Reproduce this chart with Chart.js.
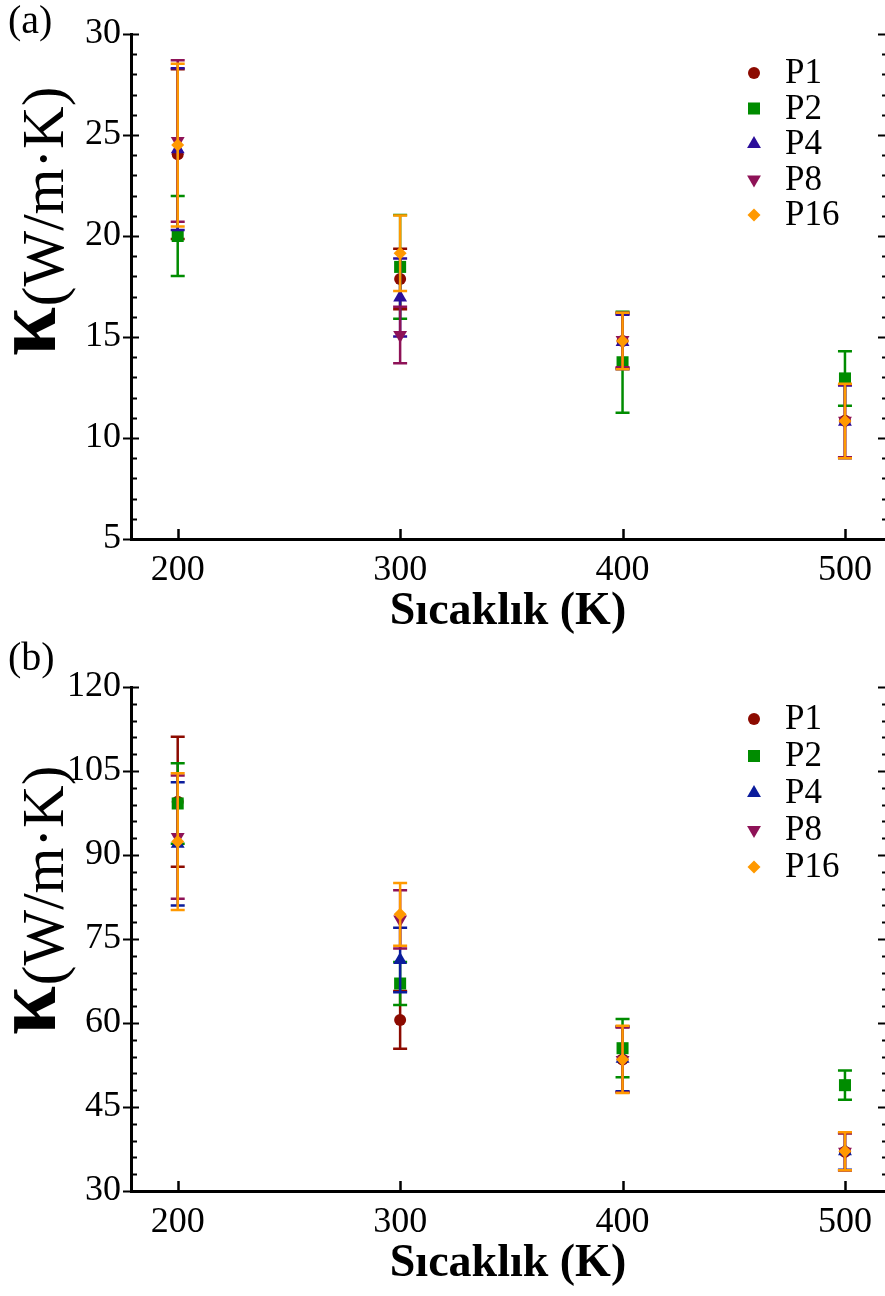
<!DOCTYPE html>
<html>
<head>
<meta charset="utf-8">
<script src="https://cdn.jsdelivr.net/npm/chart.js@4.4.1/dist/chart.umd.min.js"></script>
<style>
  html, body { margin: 0; padding: 0; background: #fff; overflow: hidden; width: 885px; height: 1296px; }
  canvas { display: block; position: absolute; left: 0; }
  #chartA { top: 0; }
  #chartB { top: 633px; }
</style>
</head>
<body>
<canvas id="chartA" width="885" height="653"></canvas>
<canvas id="chartB" width="885" height="663"></canvas>
<script>
const temps = [200, 300, 400, 500];
const xTicks = [200, 300, 400, 500];

// panel (a)
const yTicksA = [5, 10, 15, 20, 25, 30];
const a_P1 = [24.05, 17.87, 14.8, 10.85];
const a_P1_err = [4.2, 1.5, 1.35, 1.8];
const a_P2 = [20.0, 18.47, 13.75, 12.95];
const a_P2_err = [1.98, 2.57, 2.5, 1.35];
const a_P4 = [24.3, 16.95, 14.75, 10.8];
const a_P4_err = [4.0, 1.93, 1.35, 1.8];
const a_P8 = [24.7, 15.1, 14.85, 10.85];
const a_P8_err = [4.0, 1.4, 1.35, 1.8];
const a_P16 = [24.5, 19.15, 14.8, 10.84];
const a_P16_err = [4.03, 1.87, 1.4, 1.84];

// panel (b)
const yTicksB = [30, 45, 60, 75, 90, 105, 120];
const b_P1 = [99.5, 60.55, 53.5, 37.0];
const b_P1_err = [11.6, 5.15, 5.8, 3.3];
const b_P2 = [99.2, 67.05, 55.5, 48.9];
const b_P2_err = [7.2, 3.85, 5.2, 2.6];
const b_P4 = [92.0, 71.25, 53.6, 37.1];
const b_P4_err = [11.0, 5.75, 5.8, 3.3];
const b_P8 = [93.2, 78.5, 53.4, 37.0];
const b_P8_err = [11.0, 5.2, 5.8, 3.3];
const b_P16 = [92.4, 79.4, 53.5, 37.1];
const b_P16_err = [12.2, 5.6, 6.0, 3.4];

const FONT = "'Liberation Serif', 'Times New Roman', serif";

const errorBars = {
    id: 'errorBars',
    beforeDatasetDraw(chart, args) {
        const ds = chart.data.datasets[args.index];
        const xs = chart.scales.x, ys = chart.scales.y;
        const ctx = chart.ctx;
        ctx.save();
        ctx.strokeStyle = ds.pointBackgroundColor;
        ctx.lineWidth = 2.5;
        ds.data.forEach((p, i) => {
            const e = ds.errors[i];
            const x = xs.getPixelForValue(p.x);
            const y1 = ys.getPixelForValue(p.y + e);
            const y2 = ys.getPixelForValue(p.y - e);
            ctx.beginPath();
            ctx.moveTo(x, y1); ctx.lineTo(x, y2);
            ctx.moveTo(x - 7, y1); ctx.lineTo(x + 7, y1);
            ctx.moveTo(x - 7, y2); ctx.lineTo(x + 7, y2);
            ctx.stroke();
        });
        ctx.restore();
    }
};

const decor = {
    id: 'decor',
    afterDraw(chart, args, opts) {
        const ctx = chart.ctx;
        const area = chart.chartArea;
        const ys = chart.scales.y, xs = chart.scales.x;
        ctx.save();
        ctx.strokeStyle = '#000';
        // y ticks: left (major out+in, minor in), right (inward)
        for (let v = ys.min; v <= ys.max + 1e-9; v += opts.minorStep) {
            const y = Math.round(ys.getPixelForValue(v)) + 0.5;
            const major = opts.majorY.includes(Math.round(v));
            ctx.lineWidth = 2;
            ctx.beginPath();
            if (major) {
                ctx.moveTo(area.left - 8, y); ctx.lineTo(area.left + 8, y);
                ctx.moveTo(area.right - 7, y); ctx.lineTo(area.right, y);
            } else {
                ctx.moveTo(area.left, y); ctx.lineTo(area.left + 6, y);
                ctx.moveTo(area.right - 3, y); ctx.lineTo(area.right, y);
            }
            ctx.stroke();
        }
        // x ticks, inward
        xTicks.forEach(v => {
            const x = Math.round(xs.getPixelForValue(v)) + 0.5;
            ctx.lineWidth = 2.5;
            ctx.beginPath();
            ctx.moveTo(x, area.bottom); ctx.lineTo(x, area.bottom - 10);
            ctx.stroke();
        });

        // panel label
        ctx.fillStyle = '#000';
        ctx.font = '40px ' + FONT;
        ctx.textBaseline = 'middle';
        ctx.textAlign = 'left';
        ctx.fillText(opts.panel, 8, opts.labelY);

        // y title: kappa(W/m·K)
        ctx.save();
        ctx.translate(55, opts.titleY);
        ctx.rotate(-Math.PI / 2);
        ctx.textBaseline = 'alphabetic';
        ctx.font = 'bold 88px ' + FONT;
        ctx.fillText('κ', 0, 0);
        const kw = ctx.measureText('κ').width;
        ctx.font = '59px ' + FONT;
        ctx.fillText('(W/m·K)', kw + 1, 8);
        ctx.restore();

        // legend
        const lx = 754, tx = 785, step = opts.legendStep;
        chart.data.datasets.forEach((ds, i) => {
            const y = opts.legendY + i * step;
            ctx.fillStyle = ds.pointBackgroundColor;
            Chart.helpers.drawPoint(ctx, {
                pointStyle: ds.pointStyle,
                rotation: ds.pointRotation || 0,
                radius: ds.pointRadius,
                borderWidth: 0
            }, lx, y);
            ctx.fillStyle = '#000';
            ctx.font = '35px ' + FONT;
            ctx.textBaseline = 'middle';
            ctx.fillText(ds.label, tx, y + 1);
        });
        ctx.restore();
    }
};

function pts(vals) {
    return temps.map((t, i) => ({ x: t, y: vals[i] }));
}

function series(label, vals, errs, color, style, radius, rot, order) {
    return {
        label: label,
        data: pts(vals),
        errors: errs,
        showLine: false,
        pointStyle: style,
        pointRadius: radius,
        pointRotation: rot,
        pointBackgroundColor: color,
        pointBorderColor: color,
        pointBorderWidth: 0,
        order: order
    };
}

function makeChart(id, yMin, yMax, yTicks, minorStep, ds, pad, decorOpts) {
    return new Chart(document.getElementById(id).getContext('2d'), {
        type: 'scatter',
        data: { datasets: ds },
        plugins: [errorBars, decor],
        options: {
            responsive: false,
            animation: false,
            events: [],
            layout: { autoPadding: false, padding: { top: pad.top, right: 0, left: 0, bottom: pad.bottom } },
            scales: {
                x: {
                    type: 'linear',
                    min: 179,
                    max: 518,
                    afterBuildTicks: s => { s.ticks = xTicks.map(v => ({ value: v })); },
                    afterFit: s => { s.height = 101; s.paddingLeft = 0; s.paddingRight = 0; },
                    ticks: {
                        color: '#000',
                        font: { family: FONT, size: 36 },
                        padding: 10,
                        maxRotation: 0,
                        autoSkip: false
                    },
                    grid: { display: false, drawTicks: false },
                    border: { display: true, width: 3, color: '#000' },
                    title: {
                        display: true,
                        text: 'Sıcaklık (K)',
                        color: '#000',
                        font: { family: FONT, size: 46, weight: 'bold' },
                        padding: 0
                    }
                },
                y: {
                    type: 'linear',
                    min: yMin,
                    max: yMax,
                    afterBuildTicks: s => { s.ticks = yTicks.map(v => ({ value: v })); },
                    afterFit: s => { s.width = 131; s.paddingTop = 0; s.paddingBottom = 0; },
                    ticks: {
                        color: '#000',
                        font: { family: FONT, size: 36 },
                        padding: 10
                    },
                    grid: { display: false, drawTicks: false },
                    border: { display: true, width: 3, color: '#000' }
                }
            },
            plugins: {
                legend: { display: false },
                tooltip: { enabled: false },
                decor: Object.assign({ majorY: yTicks, minorStep: minorStep }, decorOpts)
            }
        }
    });
}

const cRed = '#8c0a00', cGreen = '#008c00', cPurple = '#8e1257', cOrange = '#ff9900';

makeChart('chartA', 5, 30, yTicksA, 1, [
    series('P1', a_P1, a_P1_err, cRed, 'circle', 6, 0, 5),
    series('P2', a_P2, a_P2_err, cGreen, 'rect', 8.5, 0, 4),
    series('P4', a_P4, a_P4_err, '#2b0e9a', 'triangle', 8, 0, 3),
    series('P8', a_P8, a_P8_err, cPurple, 'triangle', 8, 180, 2),
    series('P16', a_P16, a_P16_err, cOrange, 'rectRot', 6.5, 0, 1)
], { top: 34, bottom: 13 }, { panel: '(a)', labelY: 22, titleY: 356, legendY: 73, legendStep: 35.5 });

makeChart('chartB', 30, 120, yTicksB, 3, [
    series('P1', b_P1, b_P1_err, cRed, 'circle', 6, 0, 5),
    series('P2', b_P2, b_P2_err, cGreen, 'rect', 8.5, 0, 4),
    series('P4', b_P4, b_P4_err, '#0b1c9c', 'triangle', 8, 0, 3),
    series('P8', b_P8, b_P8_err, cPurple, 'triangle', 8, 180, 2),
    series('P16', b_P16, b_P16_err, cOrange, 'rectRot', 6.5, 0, 1)
], { top: 54, bottom: 4 }, { panel: '(b)', labelY: 26, titleY: 402, legendY: 86, legendStep: 37 });
</script>
</body>
</html>
